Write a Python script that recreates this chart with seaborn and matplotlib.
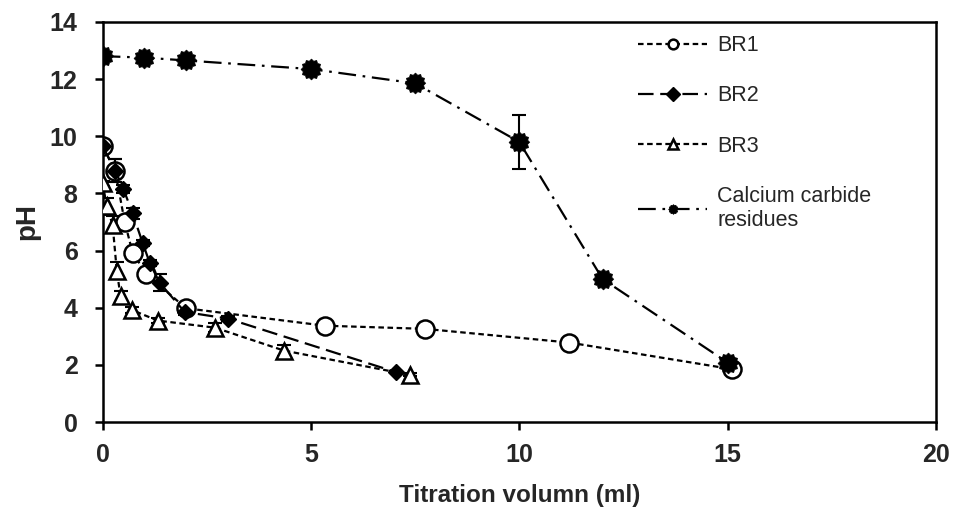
import numpy as np
import pandas as pd
import matplotlib
matplotlib.use("Agg")
import matplotlib.pyplot as plt
import seaborn as sns

# ---- data ----
br1_x = [0.0, 0.3, 0.53, 0.72, 1.05, 2.0, 5.33, 7.73, 11.2, 15.1]
br1_y = [9.65, 8.8, 7.0, 5.92, 5.18, 3.98, 3.37, 3.26, 2.78, 1.85]
br1_e = [0.1, 0.4, 0.1, 0.1, 0.15, 0.1, 0.1, 0.1, 0.1, 0.1]

br2_x = [0.0, 0.3, 0.5, 0.72, 0.96, 1.13, 1.37, 1.97, 3.0, 7.03]
br2_y = [9.65, 8.8, 8.15, 7.3, 6.27, 5.57, 4.87, 3.85, 3.62, 1.75]
br2_e = [0.1, 0.4, 0.15, 0.2, 0.1, 0.1, 0.3, 0.1, 0.1, 0.05]

br3_x = [0.0, 0.1, 0.24, 0.34, 0.43, 0.7, 1.32, 2.7, 4.35, 7.37]
br3_y = [8.35, 7.55, 6.9, 5.3, 4.4, 3.92, 3.55, 3.3, 2.5, 1.65]
br3_e = [0.1, 0.3, 0.3, 0.3, 0.2, 0.1, 0.1, 0.15, 0.2, 0.05]

ccr_x = [0.0, 1.0, 2.0, 5.0, 7.5, 10.0, 12.0, 15.0]
ccr_y = [12.8, 12.75, 12.65, 12.35, 11.85, 9.8, 5.0, 2.08]
ccr_e = [0.05, 0.05, 0.05, 0.1, 0.1, 0.95, 0.1, 0.15]

labels = ["BR1", "BR2", "BR3", "Calcium carbide\nresidues"]
x_ticks = [0, 5, 10, 15, 20]
y_ticks = [0, 2, 4, 6, 8, 10, 12, 14]

sns.set_theme(style="white")
plt.rcParams["font.family"] = ["Liberation Sans", "DejaVu Sans"]

fig = plt.figure(figsize=(9.59, 5.21), dpi=100)
ax = fig.add_axes([0.107, 0.19, 0.869, 0.768])

# gear-like marker for calcium carbide residues
n = 24
ang = np.linspace(0, 2 * np.pi, n, endpoint=False)
rad = np.where(np.arange(n) % 2 == 0, 1.0, 0.82)
gear = list(zip(rad * np.cos(ang), rad * np.sin(ang)))

series = [
    (br1_x, br1_y, br1_e, labels[0], dict(marker="o", markersize=13, markerfacecolor="white",
                                          markeredgecolor="black", markeredgewidth=1.8,
                                          dashes=(2.5, 1.6))),
    (br2_x, br2_y, br2_e, labels[1], dict(marker="D", markersize=8.5, markerfacecolor="black",
                                          markeredgecolor="black", markeredgewidth=1,
                                          dashes=(7, 3))),
    (br3_x, br3_y, br3_e, labels[2], dict(marker="^", markersize=12, markerfacecolor="white",
                                          markeredgecolor="black", markeredgewidth=1.8,
                                          dashes=(2.5, 1.6))),
    (ccr_x, ccr_y, ccr_e, labels[3], dict(marker=gear, markersize=15, markerfacecolor="black",
                                          markeredgecolor="black", markeredgewidth=0.5,
                                          dashes=(8, 3, 1.2, 3))),
]

for xs, ys, es, lab, st in series:
    ax.errorbar(xs, ys, yerr=es, fmt="none", ecolor="black", elinewidth=1.5,
                capsize=5, capthick=1.5, zorder=2)
    df = pd.DataFrame({"x": xs, "y": ys})
    dashes = st.pop("dashes")
    sns.lineplot(data=df, x="x", y="y", ax=ax, color="black", linewidth=1.6,
                 label=lab, sort=False, estimator=None, zorder=3, **st)
    ax.lines[-1].set_dashes(dashes)

ax.set_xlim(0, 20)
ax.set_ylim(0, 14)
ax.set_xticks(x_ticks)
ax.set_yticks(y_ticks)
ax.set_xlabel("Titration volumn (ml)", fontsize=17.5, fontweight="bold", labelpad=12)
ax.set_ylabel("pH", fontsize=20, fontweight="bold", labelpad=7)
for t in ax.get_xticklabels() + ax.get_yticklabels():
    t.set_fontweight("bold")
    t.set_fontsize(18)
ax.tick_params(axis="both", direction="out", length=6, width=1.8, color="black",
               bottom=True, left=True)
ax.tick_params(axis="y", pad=12)
ax.tick_params(axis="x", pad=9)
for sp in ax.spines.values():
    sp.set_visible(True)
    sp.set_color("black")
    sp.set_linewidth(1.8)

leg = ax.legend(loc="upper left", bbox_to_anchor=(0.643, 0.967), frameon=False,
                borderaxespad=0, borderpad=0,
                fontsize=15.5, labelspacing=1.36, handlelength=3.2, handletextpad=0.45)
for h in leg.get_lines():
    h.set_markersize(7)

fig.savefig("out.png", dpi=100)
